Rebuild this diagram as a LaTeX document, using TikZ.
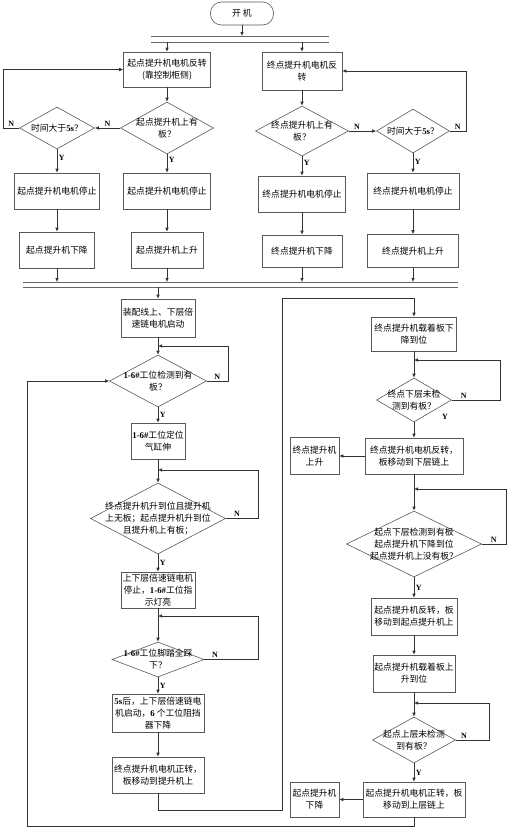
\documentclass[tikz,border=0pt]{standalone}
\usepackage{fontspec}
\setmainfont{Noto Sans CJK SC}
\newfontfamily\latnfont{Liberation Serif}
\usetikzlibrary{arrows.meta,shapes.geometric}
\newcommand{\tmb}[1]{{\latnfont\bfseries #1}}

\begin{document}
\begin{tikzpicture}[x=1pt, y=-1pt,
  every node/.style={font=\fontsize{8.8}{12}\selectfont},
  box/.style={draw=black!65, line width=0.6pt, rectangle, align=center, inner sep=1pt},
  dia/.style={draw=black!65, line width=0.6pt, diamond, inner sep=0pt},
  txt/.style={align=center, inner sep=0pt},
  startbox/.style={box, rounded corners=11pt, minimum width=63pt, minimum height=23pt},
  arr/.style={-{Latex[length=4pt,width=3.5pt]}, line width=0.6pt, draw=black!80},
  ln/.style={line width=0.6pt, draw=black!60},
  yn/.style={font=\fontsize{8}{9}\selectfont\latnfont\bfseries, inner sep=1.5pt}]
  \useasboundingbox (0,0) rectangle (509,831);
  % top part
  \node[startbox] (start) at (242,13.5) {开 机};
  \draw[ln] (151,36) -- (329,36) (151,42) -- (329,42);
  \coordinate (bar1t) at (242,36);
  \coordinate (bar1b) at (242,42);
  \node[box, minimum width=87pt, minimum height=35pt] (a1) at (167,69.5) {起点提升机电机反转\\(靠控制柜侧)};
  \node[box, minimum width=80pt, minimum height=38pt] (b1) at (302,71) {终点提升机电机反\\转};
  \node[dia, minimum width=93pt, minimum height=52pt, label={[txt]center:{起点提升机上有\\板？}}] (a2) at (167,128) {};
  \node[dia, minimum width=75pt, minimum height=42pt, label={[txt]center:{时间大于\tmb{5s}？}}] (a3) at (57,128) {};
  \node[dia, minimum width=93pt, minimum height=50pt, label={[txt]center:{终点提升机上有\\板？}}] (b2) at (302,131) {};
  \node[dia, minimum width=73pt, minimum height=44pt, label={[txt]center:{时间大于\tmb{5s}？}}] (b3) at (413,131) {};
  \node[box, minimum width=85pt, minimum height=36pt] (a4) at (57,191) {起点提升机电机停止};
  \node[box, minimum width=87pt, minimum height=36pt] (a5) at (167,191) {起点提升机电机停止};
  \node[box, minimum width=87pt, minimum height=36pt] (b4) at (302,194) {终点提升机电机停止};
  \node[box, minimum width=92pt, minimum height=36pt] (b5) at (413,191) {终点提升机电机停止};
  \node[box, minimum width=75pt, minimum height=36pt] (a6) at (57,250) {起点提升机下降};
  \node[box, minimum width=72pt, minimum height=36pt] (a7) at (167,250) {起点提升机上升};
  \node[box, minimum width=80pt, minimum height=32pt] (b6) at (302,251) {终点提升机下降};
  \node[box, minimum width=91pt, minimum height=33pt] (b7) at (413,251) {终点提升机上升};
  \draw[ln] (23,282) -- (458,282) (23,287) -- (458,287);
  \coordinate (bar2t) at (240,282);
  \coordinate (bar2b) at (240,287);
  \draw[arr] (start) -- (bar1t);
  \draw[arr] (a1 |- bar1b) -- (a1);
  \draw[arr] (b1 |- bar1b) -- (b1);
  \draw[arr] (a1) -- (a2);
  \draw[arr] (b1) -- (b2);
  \draw[arr] (a2) -- node[yn, above]{N} (a3);
  \draw[arr] (b2) -- node[yn, above, pos=.3]{N} (b3);
  \draw[arr] (a3.west) -- node[yn, above]{N} ++(-16,0) |- (a1.west);
  \draw[arr] (b3.east) -- node[yn, above]{N} ++(16,0) |- (b1.east);
  \draw[arr] (a3) -- node[yn, right, pos=.35]{Y} (a4);
  \draw[arr] (a2) -- node[yn, right, pos=.3]{Y} (a5);
  \draw[arr] (b2) -- node[yn, right, pos=.35]{Y} (b4);
  \draw[arr] (b3) -- node[yn, right, pos=.45]{Y} (b5);
  \draw[arr] (a4) -- (a6);
  \draw[arr] (a5) -- (a7);
  \draw[arr] (b4) -- (b6);
  \draw[arr] (b5) -- (b7);
  \foreach \n in {a6,a7,b6,b7}
    \draw[arr] (\n) -- (\n |- bar2t);
  % left column
  \node[box, minimum width=74pt, minimum height=38pt] (c1) at (158,318) {装配线上、下层倍\\速链电机启动};
  \node[dia, minimum width=97pt, minimum height=52pt, label={[txt]center:{\tmb{1-6\#}工位检测到有\\板？}}] (c2) at (158,381) {};
  \node[box, minimum width=54pt, minimum height=36pt] (c3) at (158,441) {\tmb{1-6\#}工位定位\\气缸伸};
  \node[dia, minimum width=135pt, minimum height=71pt, label={[txt]center:{终点提升机升到位且提升机\\上无板；起点提升机升到位\\且提升机上有板；}}] (c4) at (158,518.5) {};
  \node[box, minimum width=74pt, minimum height=36pt] (c5) at (158,590) {上下层倍速链电机\\停止，\tmb{1-6\#}工位指\\示灯亮};
  \node[dia, minimum width=92pt, minimum height=35pt, label={[txt]center:{\tmb{1-6\#}工位脚踏全踩\\下？}}] (c6) at (158,659.5) {};
  \node[box, minimum width=92pt, minimum height=38pt] (c7) at (158,713) {\tmb{5s}后，上下层倍速链电\\机启动，\tmb{6} 个工位阻挡\\器下降};
  \node[box, minimum width=92pt, minimum height=36pt] (c8) at (158,775) {终点提升机电机正转，\\板移动到提升机上};
  \coordinate (jc1) at (158,346);
  \coordinate (jc3) at (158,470);
  \coordinate (jc5) at (158,616);
  \draw[arr] (c1 |- bar2b) -- (c1);
  \draw[arr] (c1) -- (c2);
  \draw[arr] (c2.east) -- node[yn, above]{N} ++(21,0) |- (jc1);
  \draw[arr] (c2) -- node[yn, right]{Y} (c3);
  \draw[arr] (c3) -- (c4);
  \draw[arr] (c4.east) -- node[yn, above, pos=.35]{N} ++(32,0) |- (jc3);
  \draw[arr] (c4) -- node[yn, right]{Y} (c5);
  \draw[arr] (c5) -- (c6);
  \draw[arr] (c6.east) -- node[yn, above, pos=.2]{N} ++(54,0) |- (jc5);
  \draw[arr] (c6) -- node[yn, right]{Y} (c7);
  \draw[arr] (c7) -- (c8);
  % right column
  \node[box, minimum width=85pt, minimum height=34pt] (d1) at (414,334) {终点提升机载着板下\\降到位};
  \node[dia, minimum width=75pt, minimum height=44pt, label={[txt]center:{终点下层未检\\测到有板？}}] (d2) at (414,400) {};
  \node[box, minimum width=98pt, minimum height=36pt] (d3) at (414,456) {终点提升机电机反转，\\板移动到下层链上};
  \node[box, minimum width=49pt, minimum height=37pt] (d3a) at (314.5,456) {终点提升机\\上升};
  \node[dia, minimum width=135pt, minimum height=66pt, label={[txt]center:{起点下层检测到有板\\起点提升机下降到位\\起点提升机上没有板？}}] (d4) at (414,544) {};
  \node[box, minimum width=86pt, minimum height=37pt] (d5) at (414,616.5) {起点提升机反转，板\\移动到起点提升机上};
  \node[box, minimum width=82pt, minimum height=37pt] (d6) at (414,673.5) {起点提升机载着板上\\升到位};
  \node[dia, minimum width=83pt, minimum height=46pt, label={[txt]center:{起点上层未检测\\到有板？}}] (d7) at (414,740) {};
  \node[box, minimum width=102pt, minimum height=35pt] (d8) at (414,799.5) {起点提升机电机正转，板\\移动到上层链上};
  \node[box, minimum width=49pt, minimum height=35pt] (d8a) at (314.5,799.5) {起点提升机\\下降};
  \node[yn] (yd2) at (445,417) {Y};
  \coordinate (jd1) at (414,360);
  \coordinate (jd3) at (414,489);
  \coordinate (jd6) at (414,703);
  \draw[arr] (d1) -- (d2);
  \draw[arr] (d2.east) -- node[yn, above, pos=.25]{N} ++(48,0) |- (jd1);
  \draw[arr] (d2) -- (d3);
  \draw[arr] (d3) -- (d3a);
  \draw[arr] (d3) -- (d4);
  \draw[arr] (d4.east) -- node[yn, above]{N} ++(24,0) |- (jd3);
  \draw[arr] (d4) -- node[yn, right]{Y} (d5);
  \draw[arr] (d5) -- (d6);
  \draw[arr] (d6) -- (d7);
  \draw[arr] (d7.east) -- node[yn, above, pos=.25]{N} ++(33,0) |- (jd6);
  \draw[arr] (d7) -- node[yn, right]{Y} (d8);
  \draw[arr] (d8) -- (d8a);
  % loops between the columns
  \coordinate (lp) at (27,826);
  \coordinate (rp) at (282,810);
  \coordinate (tp) at (282,298);
  \draw[arr] (d8.south) |- (lp) |- (c2.west);
  \draw[arr] (c8.south) |- (rp) -- (tp) -| (d1.north);
\end{tikzpicture}
\end{document}
